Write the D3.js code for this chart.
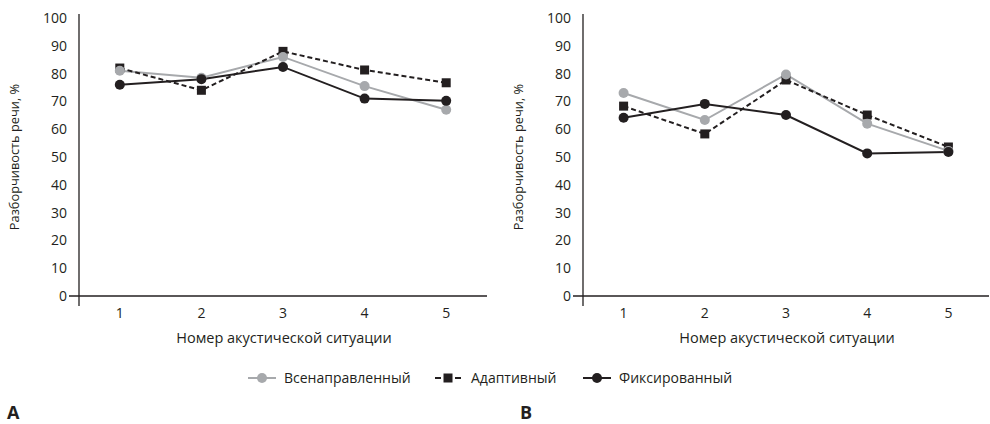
<!DOCTYPE html>
<html>
<head>
<meta charset="utf-8">
<script src="https://cdn.jsdelivr.net/npm/d3@7/dist/d3.min.js"></script>
<style>
  html, body { margin: 0; padding: 0; background: #fff; }
  svg text { font-family: "Open Sans", "Noto Sans", sans-serif; fill: #231f20; }
</style>
</head>
<body>
<svg id="chart" width="990" height="424"></svg>
<script>
// Номера акустических ситуаций
const situations = ["1", "2", "3", "4", "5"];
const yTicks = [0, 10, 20, 30, 40, 50, 60, 70, 80, 90, 100];

// Панель A
const omniA     = [81, 78.5, 86, 75.5, 67];
const adaptiveA = [82, 74, 88, 81.3, 76.7];
const fixedA    = [76, 78, 82.4, 71, 70.2];

// Панель B
const omniB     = [73, 63.3, 79.7, 62, 52.2];
const adaptiveB = [68.3, 58.3, 77.7, 65.1, 53.6];
const fixedB    = [64.1, 69.1, 65.1, 51.3, 51.8];

const seriesNames = ["Всенаправленный", "Адаптивный", "Фиксированный"];
const GRAY = "#a7a9ac", BLACK = "#231f20";

const svg = d3.select("#chart");

function panel(x0, x1, data, letter, letterX) {
  const g = svg.append("g");
  const yTop = 18, yBottom = 296;
  const x = d3.scalePoint().domain(situations).range([x0, x1]).padding(0.5);
  const y = d3.scaleLinear().domain([0, 100]).range([yBottom, yTop]);

  // оси
  g.append("line").attr("x1", x0).attr("x2", x0).attr("y1", 14).attr("y2", 306)
    .attr("stroke", BLACK).attr("stroke-width", 1.3);
  g.append("line").attr("x1", x0 - 10).attr("x2", x1).attr("y1", y(0)).attr("y2", y(0))
    .attr("stroke", BLACK).attr("stroke-width", 1.3);

  g.selectAll(".yt").data(yTicks).enter().append("text")
    .attr("x", x0 - 12).attr("y", d => y(d)).attr("dy", "0.35em")
    .attr("text-anchor", "end").attr("font-size", 14).text(d => d);

  g.selectAll(".xt").data(situations).enter().append("text")
    .attr("x", d => x(d)).attr("y", 313).attr("dy", "0.35em")
    .attr("text-anchor", "middle").attr("font-size", 14).text(d => d);

  g.append("text").attr("x", (x0 + x1) / 2 + 1).attr("y", 338).attr("dy", "0.35em")
    .attr("text-anchor", "middle").attr("font-size", 14.5).text("Номер акустической ситуации");

  g.append("text").attr("transform", `translate(${x0 - 64},157) rotate(-90)`)
    .attr("dy", "0.35em").attr("text-anchor", "middle").attr("font-size", 12.8)
    .text("Разборчивость речи, %");

  const line = d3.line().x((d, i) => x(situations[i])).y(d => y(d));
  const styles = [
    { vals: data[0], color: GRAY, dash: null, shape: "circle" },
    { vals: data[1], color: BLACK, dash: "5,3", shape: "square" },
    { vals: data[2], color: BLACK, dash: null, shape: "circle" }
  ];
  styles.forEach(s => {
    g.append("path").datum(s.vals).attr("d", line).attr("fill", "none")
      .attr("stroke", s.color).attr("stroke-width", 2)
      .attr("stroke-dasharray", s.dash);
  });
  // маркеры: сначала квадраты, затем круги
  [styles[1], styles[0], styles[2]].forEach(s => {
    if (s.shape === "square") {
      g.selectAll(null).data(s.vals).enter().append("rect")
        .attr("x", (d, i) => x(situations[i]) - 4.5).attr("y", d => y(d) - 4.5)
        .attr("width", 9).attr("height", 9).attr("fill", s.color);
    } else {
      g.selectAll(null).data(s.vals).enter().append("circle")
        .attr("cx", (d, i) => x(situations[i])).attr("cy", d => y(d))
        .attr("r", 5).attr("fill", s.color);
    }
  });

  svg.append("text").attr("x", letterX).attr("y", 419)
    .attr("font-size", 18).attr("font-weight", "bold").text(letter);
}

panel(79, 487, [omniA, adaptiveA, fixedA], "A", 7);
panel(583, 989, [omniB, adaptiveB, fixedB], "B", 520);

// легенда
const legend = svg.append("g");
const legendItems = [
  { name: seriesNames[0], x: 248, color: GRAY, shape: "circle", dash: false },
  { name: seriesNames[1], x: 435, color: BLACK, shape: "square", dash: true },
  { name: seriesNames[2], x: 583, color: BLACK, shape: "circle", dash: false }
];
const ly = 378;
legendItems.forEach(it => {
  if (it.dash) {
    legend.append("line").attr("x1", it.x).attr("x2", it.x + 6).attr("y1", ly).attr("y2", ly)
      .attr("stroke", it.color).attr("stroke-width", 2);
    legend.append("line").attr("x1", it.x + 20).attr("x2", it.x + 26).attr("y1", ly).attr("y2", ly)
      .attr("stroke", it.color).attr("stroke-width", 2);
    legend.append("rect").attr("x", it.x + 8.5).attr("y", ly - 4.5).attr("width", 9).attr("height", 9)
      .attr("fill", it.color);
  } else {
    legend.append("line").attr("x1", it.x).attr("x2", it.x + 28).attr("y1", ly).attr("y2", ly)
      .attr("stroke", it.color).attr("stroke-width", 2);
    legend.append("circle").attr("cx", it.x + 14).attr("cy", ly).attr("r", 5).attr("fill", it.color);
  }
  legend.append("text").attr("x", it.x + 36).attr("y", ly).attr("dy", "0.35em")
    .attr("font-size", 14).text(it.name);
});
</script>
</body>
</html>
